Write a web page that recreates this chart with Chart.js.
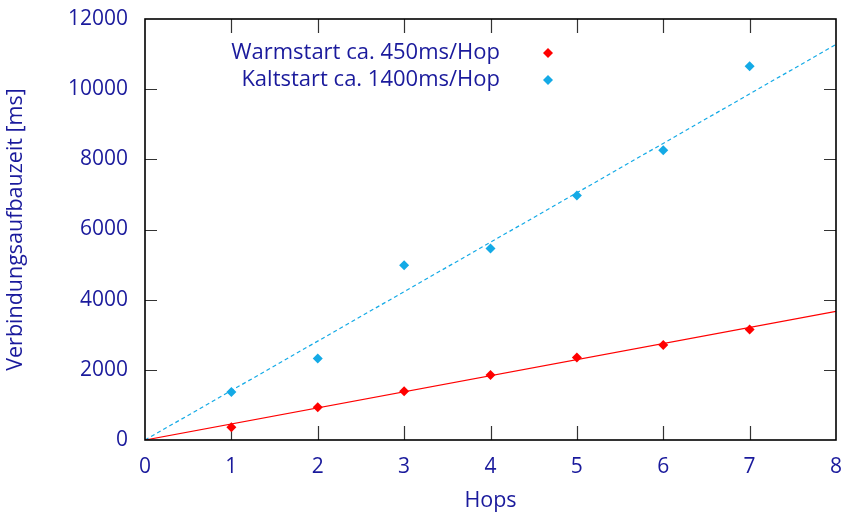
<!DOCTYPE html>
<html><head><meta charset="utf-8">
<script src="https://cdn.jsdelivr.net/npm/chart.js@4/dist/chart.umd.min.js"></script>
<style>html,body{margin:0;padding:0;background:#fff}#w{width:846px;height:518px}</style>
</head><body><div id="w"><canvas id="c"></canvas></div>
<script>
const hops = [1, 2, 3, 4, 5, 6, 7];
const warmValues = [360, 930, 1390, 1850, 2350, 2710, 3150];
const coldValues = [1370, 2320, 4980, 5460, 6970, 8260, 10650];
const fitX = [0, 8];
const warmFit = [0, 3666];
const coldFit = [0, 11274];
const legendLabels = ['Warmstart ca. 450ms/Hop', 'Kaltstart ca. 1400ms/Hop'];
const xTicks = [0, 1, 2, 3, 4, 5, 6, 7, 8];
const yTicks = [0, 2000, 4000, 6000, 8000, 10000, 12000];

const TXT = '#1a1a9c', RED = '#ff0000', BLUE = '#14aae6';
const FONT = '"Open Sans"';
const FS = 21;

const pts = (xs, ys) => xs.map((x, i) => ({x, y: ys[i]}));

const frame = {
  id: 'frame',
  beforeDatasetsDraw(chart) {
    const {ctx, chartArea: a, scales: {x, y}} = chart;
    ctx.save();
    ctx.strokeStyle = '#333'; ctx.lineWidth = 1.2;
    ctx.beginPath();
    xTicks.forEach(v => {
      if (v === 0 || v === 8) return;
      const px = Math.round(x.getPixelForValue(v)) + 0.5;
      ctx.moveTo(px, a.bottom); ctx.lineTo(px, a.bottom - 14);
      ctx.moveTo(px, a.top); ctx.lineTo(px, a.top + 14);
    });
    yTicks.forEach(v => {
      if (v === 0 || v === 12000) return;
      const py = Math.round(y.getPixelForValue(v)) + 0.5;
      ctx.moveTo(a.left, py); ctx.lineTo(a.left + 12, py);
      ctx.moveTo(a.right, py); ctx.lineTo(a.right - 12, py);
    });
    ctx.stroke();
    ctx.restore();
  },
  afterDatasetsDraw(chart) {
    const {ctx, chartArea: a} = chart;
    ctx.save();
    ctx.strokeStyle = '#000';
    ctx.lineWidth = 1.6;
    ctx.strokeRect(a.left, a.top, a.right - a.left, a.bottom - a.top);
    ctx.font = '22px ' + FONT;
    ctx.fillStyle = TXT; ctx.textAlign = 'right'; ctx.textBaseline = 'middle';
    const cols = [RED, BLUE];
    legendLabels.forEach((t, i) => {
      const yy = 53 + i * 27;
      ctx.fillText(t, 500, yy);
      ctx.fillStyle = cols[i];
      ctx.beginPath();
      ctx.moveTo(548, yy - 5); ctx.lineTo(553, yy); ctx.lineTo(548, yy + 5); ctx.lineTo(543, yy);
      ctx.closePath(); ctx.fill();
      ctx.fillStyle = TXT;
    });
    ctx.restore();
  }
};

new Chart(document.getElementById('c'), {
  type: 'scatter',
  data: {
    datasets: [
      {data: pts(fitX, warmFit), showLine: true, borderColor: RED, borderWidth: 1.2, pointRadius: 0, fill: false},
      {data: pts(fitX, coldFit), showLine: true, borderColor: BLUE, borderWidth: 1.2, borderDash: [4, 3], pointRadius: 0, fill: false},
      {data: pts(hops, warmValues), pointStyle: 'rectRot', pointRadius: 5, backgroundColor: RED, borderColor: RED, borderWidth: 0},
      {data: pts(hops, coldValues), pointStyle: 'rectRot', pointRadius: 5, backgroundColor: BLUE, borderColor: BLUE, borderWidth: 0}
    ]
  },
  options: {
    responsive: true, maintainAspectRatio: false, animation: false,
    layout: {padding: {left: 0, right: 10, top: 19, bottom: 0}},
    plugins: {legend: {display: false}, tooltip: {enabled: false}},
    scales: {
      x: {
        type: 'linear', min: 0, max: 8,
        afterBuildTicks: s => { s.ticks = xTicks.map(v => ({value: v})); },
        afterFit: s => { s.height = 78; s.paddingLeft = 0; s.paddingRight = 0; },
        grid: {display: false, drawTicks: false},
        border: {display: false},
        ticks: {color: TXT, font: {family: FONT, size: FS}, padding: 14},
        title: {display: true, text: 'Hops', color: TXT, font: {family: FONT, size: 21.5}, padding: {top: 9}}
      },
      y: {
        type: 'linear', min: 0, max: 12000,
        afterBuildTicks: s => { s.ticks = yTicks.map(v => ({value: v})); },
        afterFit: s => { s.width = 145; s.paddingTop = 0; s.paddingBottom = 0; },
        grid: {display: false, drawTicks: false},
        border: {display: false},
        ticks: {color: TXT, font: {family: FONT, size: FS}, padding: 17, callback: v => String(v)},
        title: {display: true, text: 'Verbindungsaufbauzeit [ms]', color: TXT, font: {family: FONT, size: 21.5}, padding: {top: 3, bottom: 0}}
      }
    }
  },
  plugins: [frame]
});
</script></body></html>
